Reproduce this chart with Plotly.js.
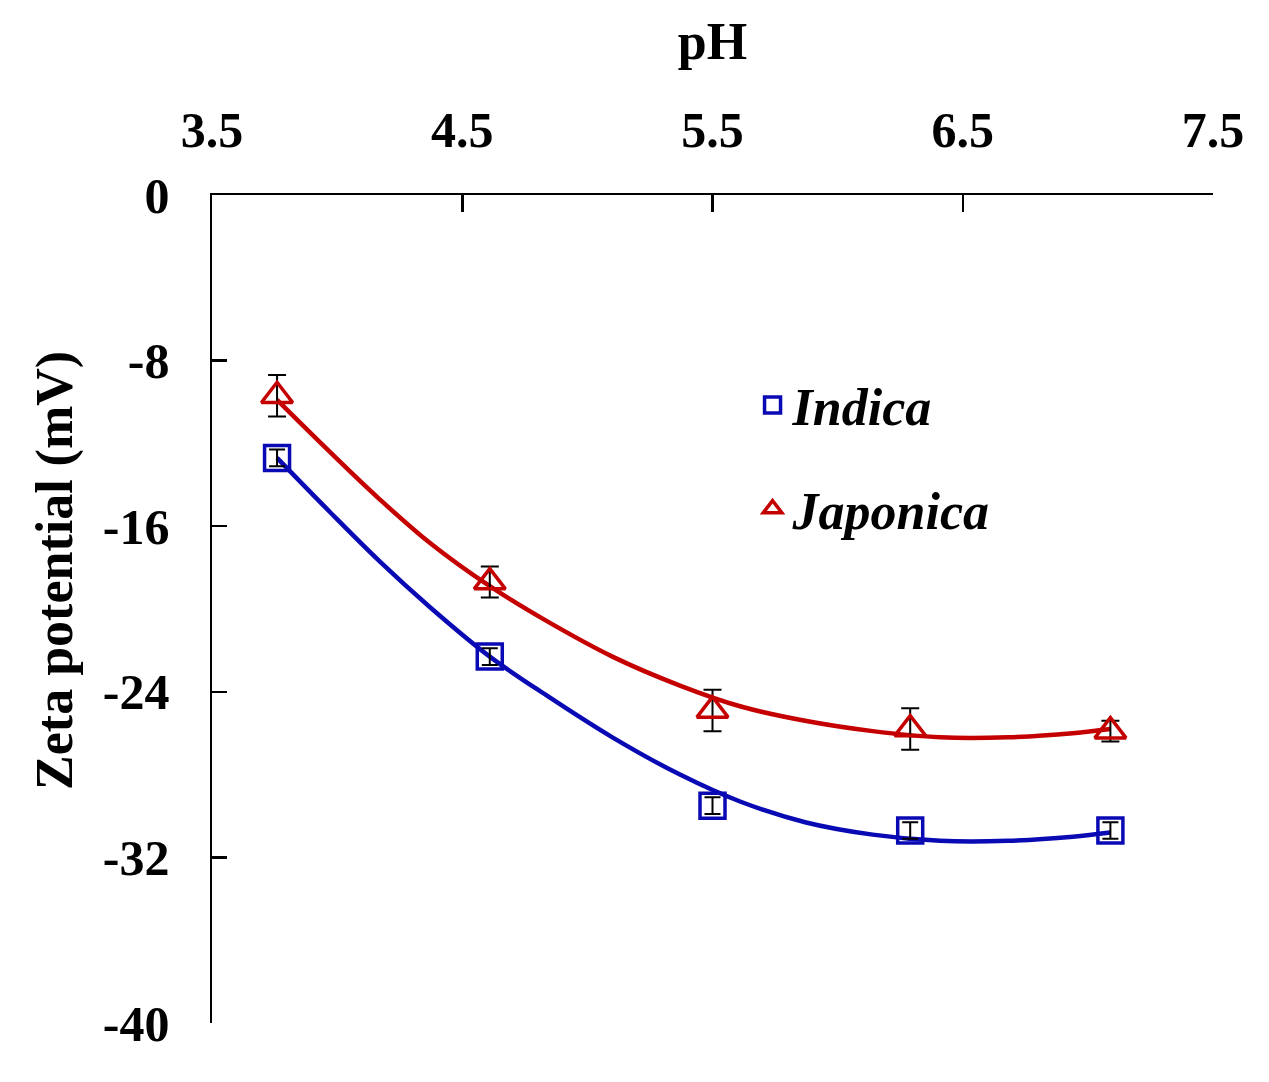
<!DOCTYPE html>
<html>
<head>
<meta charset="utf-8">
<script src="https://cdn.plot.ly/plotly-3.0.1.min.js"></script>
<style>
  html, body { margin: 0; padding: 0; background: #fff; }
  #chart { width: 1269px; height: 1082px; }
</style>
</head>
<body>
<div id="chart"></div>
<script>
// measured points
const phValues = [3.76, 4.61, 5.5, 6.29, 7.09];
const indica = [-12.7, -22.3, -29.5, -30.7, -30.7];
const indicaErr = [0.4, 0.4, 0.4, 0.4, 0.4];
const japonica = [-9.7, -18.7, -24.9, -25.8, -25.9];
const japonicaErr = [1.0, 0.75, 1.0, 1.0, 0.5];

// trend curves
const fitPh = [3.76, 3.97, 4.17, 4.37, 4.61, 4.84, 5.10, 5.37, 5.61, 5.87, 6.14, 6.41, 6.68, 6.94, 7.09];
const indicaFit = [-12.7, -15.3, -17.7, -19.9, -22.3, -24.2, -26.2, -28.0, -29.3, -30.3, -30.9, -31.2, -31.2, -31.0, -30.8];
const japonicaFit = [-9.9, -12.4, -14.7, -16.8, -18.9, -20.6, -22.3, -23.7, -24.7, -25.4, -25.9, -26.2, -26.2, -26.0, -25.8];

const xTicks = [3.5, 4.5, 5.5, 6.5, 7.5];
const yTicks = [0, -8, -16, -24, -32, -40];

const blue = "#0a0ab4";
const red = "#c40000";
const serif = "Liberation Serif, Times New Roman, serif";

const data = [
  {
    x: fitPh, y: indicaFit, mode: "lines", type: "scatter",
    line: { color: blue, width: 4.5, shape: "spline", smoothing: 1 },
    showlegend: false, hoverinfo: "skip"
  },
  {
    x: fitPh, y: japonicaFit, mode: "lines", type: "scatter",
    line: { color: red, width: 4.5, shape: "spline", smoothing: 1 },
    showlegend: false, hoverinfo: "skip"
  },
  {
    x: phValues, y: indica, name: "Indica", legendgroup: "a",
    mode: "markers", type: "scatter",
    marker: { symbol: "square-open", size: 25, color: blue, line: { width: 3.5, color: blue } },
    error_y: { type: "data", array: indicaErr, visible: true, color: "#000", thickness: 2, width: 8 }
  },
  {
    x: phValues, y: japonica, name: "Japonica", legendgroup: "b",
    mode: "markers", type: "scatter",
    marker: { symbol: "triangle-up-open", size: 27, color: red, line: { width: 3.5, color: red } },
    error_y: { type: "data", array: japonicaErr, visible: true, color: "#000", thickness: 2, width: 9 }
  }
];

const layout = {
  width: 1269,
  height: 1082,
  margin: { l: 212, r: 56, t: 195, b: 59 },
  paper_bgcolor: "#fff",
  plot_bgcolor: "#fff",
  font: { family: serif, color: "#000", size: 50, weight: "bold" },
  xaxis: {
    side: "top",
    range: [3.5, 7.5],
    tickvals: xTicks,
    ticktext: xTicks.map(v => v.toFixed(1)),
    ticks: "inside",
    ticklen: 17,
    tickwidth: 2.5,
    tickcolor: "#000",
    showline: true,
    linecolor: "#000",
    linewidth: 2.5,
    showgrid: false,
    zeroline: false,
    ticklabelstandoff: 26,
    tickfont: { family: serif, size: 50, weight: "bold" },
    title: { text: "pH", font: { family: serif, size: 52, weight: "bold" }, standoff: 26 }
  },
  yaxis: {
    range: [-40, 0],
    tickvals: yTicks,
    ticktext: yTicks.map(String),
    ticks: "inside",
    ticklen: 15,
    tickwidth: 2.5,
    tickcolor: "#000",
    showline: true,
    linecolor: "#000",
    linewidth: 2.5,
    showgrid: false,
    zeroline: false,
    ticklabelstandoff: 30,
    tickfont: { family: serif, size: 50, weight: "bold" }
  },
  // y title sits above the axis middle in the original, so it is an annotation
  annotations: [{
    text: "Zeta potential (mV)",
    xref: "paper", yref: "paper",
    x: -0.157, y: 0.547,
    xanchor: "center", yanchor: "middle",
    textangle: -90,
    showarrow: false,
    font: { family: serif, size: 52, weight: "bold", color: "#000" }
  }],
  legend: {
    x: 0.54, y: 0.795, xanchor: "left", yanchor: "top",
    bgcolor: "rgba(0,0,0,0)",
    traceorder: "grouped",
    tracegroupgap: 33,
    itemwidth: 30,
    font: { family: serif, size: 52, weight: "bold", style: "italic", color: "#000" }
  },
  showlegend: true
};

Plotly.newPlot("chart", data, layout, { displayModeBar: false, staticPlot: true });
</script>
</body>
</html>
